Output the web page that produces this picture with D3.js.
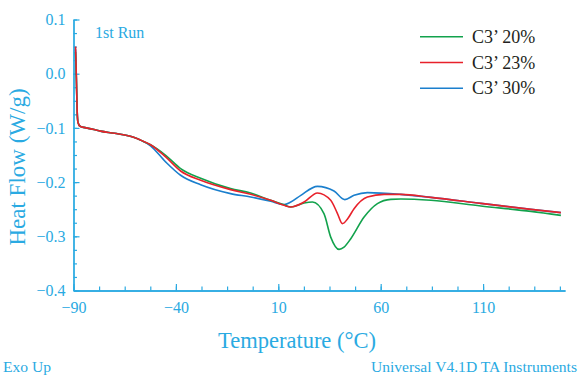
<!DOCTYPE html>
<html>
<head>
<meta charset="utf-8">
<script src="https://d3js.org/d3.v7.min.js"></script>
<style>
    body { margin: 0; background: #fff; }
    svg { display: block; }
</style>
</head>
<body>
<div id="chart-container"></div>
<script>

// values: [temperature degC, heat flow W/g]
var green20 = [
    [-89.0, 0.040], [-88.6, -0.010], [-88.2, -0.070], [-87.8, -0.090], [-86.8, -0.097],
    [-85, -0.099], [-80, -0.103], [-76.8, -0.106], [-70, -0.110], [-61, -0.117],
    [-57, -0.123], [-52.4, -0.131], [-45, -0.1505], [-37.7, -0.175], [-27.9, -0.193],
    [-13.3, -0.212], [-3.5, -0.2202], [6.3, -0.2337], [12.8, -0.242], [16.1, -0.246],
    [22.6, -0.2386], [26.7, -0.2368], [32.3, -0.2582], [35.6, -0.3015], [39.7, -0.3242],
    [42.1, -0.320], [45.4, -0.3044], [51.9, -0.2645], [58.4, -0.2397], [64.9, -0.2318],
    [69.8, -0.2312], [84.5, -0.2336], [108.9, -0.2442], [133.4, -0.254], [148.0, -0.2614]
];
var red23 = [
    [-89.0, 0.050], [-88.6, -0.005], [-88.2, -0.070], [-87.8, -0.090], [-86.8, -0.097],
    [-85, -0.099], [-80, -0.103], [-76.8, -0.106], [-70, -0.110], [-61, -0.117],
    [-57, -0.123], [-52.4, -0.131], [-45, -0.1536], [-37.7, -0.1795], [-27.9, -0.1967],
    [-13.3, -0.2139], [-3.5, -0.2226], [6.3, -0.2337], [12.8, -0.2429], [16.1, -0.246],
    [22.6, -0.2368], [29.1, -0.2201], [35.6, -0.2336], [38.9, -0.258], [41.3, -0.2767],
    [43.8, -0.268], [47.0, -0.249], [53.5, -0.2275], [61.7, -0.2226], [69.8, -0.2226],
    [84.5, -0.2281], [108.9, -0.2392], [133.4, -0.2503], [148.0, -0.2564]
];
var blue30 = [
    [-89.0, 0.045], [-88.6, -0.008], [-88.2, -0.070], [-87.8, -0.090], [-86.8, -0.097],
    [-85, -0.099], [-80, -0.103], [-76.8, -0.106], [-70, -0.110], [-61, -0.117],
    [-57, -0.123], [-52.4, -0.133], [-45, -0.1628], [-37.7, -0.1874], [-27.9, -0.205],
    [-13.3, -0.2213], [-3.5, -0.2275], [6.3, -0.2355], [12.8, -0.2416], [16.1, -0.2368],
    [21.0, -0.2244], [29.1, -0.2078], [37.2, -0.2165], [42.5, -0.2323], [47.0, -0.2244],
    [53.5, -0.2194], [69.8, -0.2226], [84.5, -0.2281], [108.9, -0.2392], [133.4, -0.2503],
    [148.0, -0.2564]
];

var seriesNames = ["C3\u2019 20%", "C3\u2019 23%", "C3\u2019 30%"];
var seriesColors = ["#12a24c", "#e8212b", "#1b7fcd"];
var seriesData = [green20, red23, blue30];
var drawOrder = [2, 0, 1];

var xTicks = [-90, -40, 10, 60, 110];
var yTicks = [-0.4, -0.3, -0.2, -0.1, 0.0, 0.1];

var axisColor = "#2aaae2";
var font = "'Liberation Serif', 'Times New Roman', serif";

var svg = d3.select("#chart-container")
    .append("svg")
    .attr("width", 579)
    .attr("height", 376)
    .style("font-family", font);

var xScale = d3.scaleLinear()
    .domain([-90, 150])
    .range([73.5, 565]);
var yScale = d3.scaleLinear()
    .domain([-0.4, 0.1])
    .range([290.5, 19.5]);

// minor ticks first, then the labelled ones
var xMinor = d3.range(0, 20).map(function (i) { return -90 + i * 12.5; });
var yMinor = d3.range(0, 21).map(function (i) { return -0.4 + i * 0.025; });

var styleAxis = function (g) {
    g.select(".domain").attr("stroke", axisColor).attr("stroke-width", 1.3);
    g.selectAll(".tick line").attr("stroke", axisColor).attr("stroke-width", 1.2);
    g.selectAll(".tick text")
        .attr("fill", axisColor)
        .style("font-family", font)
        .style("font-size", "16px");
}

svg.append("g")
    .attr("transform", "translate(0, " + yScale(-0.4) + ")")
    .call(d3.axisBottom(xScale).tickValues(xMinor).tickSizeInner(-4).tickSizeOuter(0).tickFormat(""))
    .call(styleAxis);
svg.append("g")
    .attr("transform", "translate(0, " + yScale(-0.4) + ")")
    .call(d3.axisBottom(xScale).tickValues(xTicks).tickSizeInner(-6.5).tickSizeOuter(0)
        .tickPadding(11).tickFormat(d3.format("d")))
    .call(styleAxis);

svg.append("g")
    .attr("transform", "translate(" + xScale(-90) + ", 0)")
    .call(d3.axisLeft(yScale).tickValues(yMinor).tickSizeInner(-3.5).tickSizeOuter(0).tickFormat(""))
    .call(styleAxis);
svg.append("g")
    .attr("transform", "translate(" + xScale(-90) + ", 0)")
    .call(d3.axisLeft(yScale).tickValues(yTicks).tickSizeInner(-6).tickSizeOuter(0)
        .tickPadding(8).tickFormat(d3.format(".1f")))
    .call(styleAxis);

var line = d3.line()
    .x(function (d) { return xScale(d[0]); })
    .y(function (d) { return yScale(d[1]); })
    .curve(d3.curveMonotoneX);

drawOrder.forEach(function (i) {
    svg.append("path")
        .datum(seriesData[i])
        .attr("d", line)
        .attr("fill", "none")
        .attr("stroke", seriesColors[i])
        .attr("stroke-width", 1.6)
        .attr("stroke-linejoin", "round");
});

// legend
var legend = svg.append("g");
seriesNames.forEach(function (name, i) {
    var ly = 36.7 + i * 25.8;
    legend.append("line")
        .attr("x1", 420).attr("x2", 463)
        .attr("y1", ly).attr("y2", ly)
        .attr("stroke", seriesColors[i])
        .attr("stroke-width", 1.6);
    legend.append("text")
        .attr("x", 472)
        .attr("y", ly + 6)
        .attr("fill", "#231f20")
        .style("font-size", "18px")
        .text(name);
});

svg.append("text")
    .attr("x", 95).attr("y", 37.5)
    .attr("fill", axisColor)
    .style("font-size", "16px")
    .text("1st Run");

svg.append("text")
    .attr("x", 297).attr("y", 348)
    .attr("text-anchor", "middle")
    .attr("fill", axisColor)
    .style("font-size", "22.5px")
    .text("Temperature (\u00B0C)");

svg.append("text")
    .attr("transform", "translate(25, 167) rotate(-90)")
    .attr("text-anchor", "middle")
    .attr("fill", axisColor)
    .style("font-size", "23px")
    .text("Heat Flow (W/g)");

svg.append("text")
    .attr("x", 3).attr("y", 372)
    .attr("fill", axisColor)
    .style("font-size", "15.6px")
    .text("Exo Up");

svg.append("text")
    .attr("x", 577).attr("y", 372)
    .attr("text-anchor", "end")
    .attr("fill", axisColor)
    .style("font-size", "15.6px")
    .text("Universal V4.1D TA Instruments");

</script>
</body>
</html>
